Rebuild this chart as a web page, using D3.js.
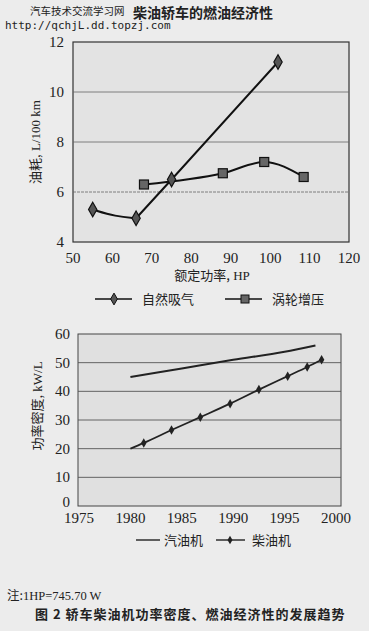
<!DOCTYPE html>
<html>
<head>
<meta charset="utf-8">
<script src="https://cdn.jsdelivr.net/npm/d3@7"></script>
<style>
  body { margin: 0; background: #ececec; }
  svg { display: block; }
  text { font-family: "Liberation Serif", "DejaVu Serif", serif; fill: #222; }
  text.cjk, tspan.cjk { font-family: "Noto Sans CJK SC", sans-serif; }
</style>
</head>
<body>
<script>
"use strict";

// 上图：柴油轿车的燃油经济性
var powerTicks = [50, 60, 70, 80, 90, 100, 110, 120];
var fuelTicks = [4, 6, 8, 10, 12];
var naturalPower = [55, 66, 75, 102];
var naturalFuel = [5.3, 4.95, 6.5, 11.2];
var turboPower = [68, 88, 98.5, 108.5];
var turboFuel = [6.3, 6.75, 7.2, 6.6];

// 下图：功率密度
var yearTicks = [1975, 1980, 1985, 1990, 1995, 2000];
var densityTicks = [0, 10, 20, 30, 40, 50, 60];
var gasYears = [1980, 1985, 1990, 1995, 1998];
var gasDensity = [45, 48, 51, 53.8, 56];
var dieselYears = [1980, 1981.3, 1984, 1986.8, 1989.7, 1992.5, 1995.3, 1997.2, 1998.6];
var dieselDensity = [20, 22, 26.5, 31, 35.7, 40.6, 45.3, 48.5, 51];

var SERIF = "'Liberation Serif', 'DejaVu Serif', serif";

var svg = d3.select("body").append("svg")
  .attr("width", 369).attr("height", 631);

svg.append("rect").attr("width", 369).attr("height", 631).attr("fill", "#ececec");

/* ---------- 上图 ---------- */
var x1 = d3.scaleLinear().domain([50, 120]).range([73, 349]);
var y1 = d3.scaleLinear().domain([4, 12]).range([242, 42]);

var g1 = svg.append("g");
g1.append("rect")
  .attr("x", x1(50)).attr("y", y1(12))
  .attr("width", x1(120) - x1(50)).attr("height", y1(4) - y1(12))
  .attr("fill", "#e3e3e3").attr("stroke", "#333").attr("stroke-width", 1.2);

g1.selectAll(".grid").data(fuelTicks.slice(1, -1)).enter().append("line")
  .attr("x1", x1(50)).attr("x2", x1(120))
  .attr("y1", function(d){ return y1(d); }).attr("y2", function(d){ return y1(d); })
  .attr("stroke", "#666").attr("stroke-width", 0.8)
  .attr("stroke-dasharray", function(d){ return d == 6 ? "3,1" : null; });

g1.selectAll(".ylab").data(fuelTicks).enter().append("text")
  .attr("x", 64).attr("y", function(d){ return y1(d) + 5; })
  .attr("text-anchor", "end").attr("font-size", 15).style("font-family", SERIF)
  .text(function(d){ return d; });

g1.selectAll(".xlab").data(powerTicks).enter().append("text")
  .attr("x", function(d){ return x1(d); }).attr("y", 263)
  .attr("text-anchor", "middle").attr("font-size", 15).style("font-family", SERIF)
  .text(function(d){ return d; });

g1.append("text")
  .attr("transform", "translate(40,142) rotate(-90)")
  .attr("text-anchor", "middle").attr("font-size", 13).style("font-family", SERIF)
  .html('<tspan class="cjk">油耗,</tspan> L/100 km');

g1.append("text")
  .attr("x", 212).attr("y", 280)
  .attr("text-anchor", "middle").attr("font-size", 13).style("font-family", SERIF)
  .html('<tspan class="cjk">额定功率,</tspan> HP');

var natural = naturalPower.map(function(p, i){ return [p, naturalFuel[i]]; });
var turbo = turboPower.map(function(p, i){ return [p, turboFuel[i]]; });

var line1 = d3.line()
  .x(function(d){ return x1(d[0]); })
  .y(function(d){ return y1(d[1]); })
  .curve(d3.curveMonotoneX);

// 自然吸气: 前段弯曲, 后段直线
g1.append("path")
  .attr("d", d3.line().x(function(d){ return x1(d[0]); }).y(function(d){ return y1(d[1]); })
    .curve(d3.curveBundle.beta(0.6))([natural[0], [61, 4.95], natural[1]]))
  .attr("fill", "none").attr("stroke", "#111").attr("stroke-width", 2);
g1.append("path").datum(natural.slice(1))
  .attr("d", d3.line().x(function(d){ return x1(d[0]); }).y(function(d){ return y1(d[1]); }))
  .attr("fill", "none").attr("stroke", "#111").attr("stroke-width", 2);

g1.append("path").datum(turbo)
  .attr("d", line1)
  .attr("fill", "none").attr("stroke", "#111").attr("stroke-width", 2);

var diamond = d3.symbol().type(d3.symbolDiamond).size(60);
g1.selectAll(".nat").data(natural).enter().append("path")
  .attr("d", diamond)
  .attr("transform", function(d){ return "translate(" + x1(d[0]) + "," + y1(d[1]) + ")"; })
  .attr("fill", "#555").attr("stroke", "#111").attr("stroke-width", 1.2);

g1.selectAll(".turbo").data(turbo).enter().append("rect")
  .attr("x", function(d){ return x1(d[0]) - 4.5; })
  .attr("y", function(d){ return y1(d[1]) - 4.5; })
  .attr("width", 9).attr("height", 9)
  .attr("fill", "#666").attr("stroke", "#111").attr("stroke-width", 1.2);

// 图例
var leg1 = g1.append("g");
leg1.append("line").attr("x1", 95).attr("x2", 132).attr("y1", 299).attr("y2", 299)
  .attr("stroke", "#111").attr("stroke-width", 1.6);
leg1.append("path").attr("d", d3.symbol().type(d3.symbolDiamond).size(40))
  .attr("transform", "translate(114,299)").attr("fill", "#555").attr("stroke", "#111");
leg1.append("text").attr("class", "cjk").attr("x", 142).attr("y", 304)
  .attr("font-size", 13).text("自然吸气");
leg1.append("line").attr("x1", 225).attr("x2", 262).attr("y1", 299).attr("y2", 299)
  .attr("stroke", "#111").attr("stroke-width", 1.6);
leg1.append("rect").attr("x", 241).attr("y", 295).attr("width", 8).attr("height", 8)
  .attr("fill", "#666").attr("stroke", "#111");
leg1.append("text").attr("class", "cjk").attr("x", 272).attr("y", 304)
  .attr("font-size", 13).text("涡轮增压");

/* ---------- 下图 ---------- */
var x2 = d3.scaleLinear().domain([1975, 2000]).range([79, 336]);
var y2 = d3.scaleLinear().domain([0, 60]).range([506, 334]);

var g2 = svg.append("g");
g2.append("rect")
  .attr("x", 78).attr("y", y2(60))
  .attr("width", 341 - 78).attr("height", y2(0) - y2(60))
  .attr("fill", "#e0e0e0").attr("stroke", "#444").attr("stroke-width", 1);

g2.selectAll(".grid").data(densityTicks.slice(1, -1)).enter().append("line")
  .attr("x1", 78).attr("x2", 341)
  .attr("y1", function(d){ return y2(d); }).attr("y2", function(d){ return y2(d); })
  .attr("stroke", "#555").attr("stroke-width", 0.9);

g2.selectAll(".ylab").data(densityTicks).enter().append("text")
  .attr("x", 70).attr("y", function(d){ return d == 0 ? y2(d) + 1 : y2(d) + 5; })
  .attr("text-anchor", "end").attr("font-size", 15).style("font-family", SERIF)
  .text(function(d){ return d; });

g2.selectAll(".xlab").data(yearTicks).enter().append("text")
  .attr("x", function(d){ return x2(d); }).attr("y", 523)
  .attr("text-anchor", "middle").attr("font-size", 15).style("font-family", SERIF)
  .text(function(d){ return d; });

g2.append("text")
  .attr("transform", "translate(42,406) rotate(-90)")
  .attr("text-anchor", "middle").attr("font-size", 13).style("font-family", SERIF)
  .html('<tspan class="cjk">功率密度,</tspan> kW/L');

var gas = gasYears.map(function(y, i){ return [y, gasDensity[i]]; });
var diesel = dieselYears.map(function(y, i){ return [y, dieselDensity[i]]; });

var line2 = d3.line()
  .x(function(d){ return x2(d[0]); })
  .y(function(d){ return y2(d[1]); })
  .curve(d3.curveMonotoneX);

g2.append("path").datum(gas).attr("d", line2)
  .attr("fill", "none").attr("stroke", "#222").attr("stroke-width", 2);
g2.append("path").datum(diesel).attr("d", line2)
  .attr("fill", "none").attr("stroke", "#222").attr("stroke-width", 1.8);

g2.selectAll(".dot").data(diesel.slice(1)).enter().append("path")
  .attr("d", d3.symbol().type(d3.symbolDiamond).size(26))
  .attr("transform", function(d){ return "translate(" + x2(d[0]) + "," + y2(d[1]) + ")"; })
  .attr("fill", "#222");

var leg2 = g2.append("g");
leg2.append("line").attr("x1", 136).attr("x2", 160).attr("y1", 540).attr("y2", 540)
  .attr("stroke", "#222").attr("stroke-width", 1.4);
leg2.append("text").attr("class", "cjk").attr("x", 164).attr("y", 545)
  .attr("font-size", 13).attr("fill", "#333").text("汽油机");
leg2.append("line").attr("x1", 216).attr("x2", 245).attr("y1", 540).attr("y2", 540)
  .attr("stroke", "#222").attr("stroke-width", 1.4);
leg2.append("path").attr("d", d3.symbol().type(d3.symbolDiamond).size(22))
  .attr("transform", "translate(230,540)").attr("fill", "#222");
leg2.append("text").attr("class", "cjk").attr("x", 252).attr("y", 545)
  .attr("font-size", 13).attr("fill", "#333").text("柴油机");

/* ---------- 标题与注释 ---------- */
svg.append("text").attr("class", "cjk")
  .attr("x", 203).attr("y", 18).attr("text-anchor", "middle")
  .attr("font-size", 14).attr("font-weight", "bold").attr("fill", "#333")
  .text("柴油轿车的燃油经济性");
svg.append("text").attr("class", "cjk")
  .attr("x", 30).attr("y", 15).attr("font-size", 10.5).attr("fill", "#111")
  .text("汽车技术交流学习网");
svg.append("text")
  .attr("x", 5).attr("y", 29).attr("font-size", 11)
  .style("font-family", "'DejaVu Sans Mono', monospace")
  .text("http://qchjL.dd.topzj.com");

svg.append("text")
  .attr("x", 7).attr("y", 600).attr("font-size", 12.5).attr("fill", "#555")
  .style("font-family", SERIF)
  .html('<tspan class="cjk">注:</tspan>1HP=745.70 W');

svg.append("text").attr("class", "cjk")
  .attr("x", 35).attr("y", 619).attr("font-size", 13).attr("font-weight", "bold")
  .attr("fill", "#222").attr("letter-spacing", 1)
  .text("图 2   轿车柴油机功率密度、燃油经济性的发展趋势");
</script>
</body>
</html>
